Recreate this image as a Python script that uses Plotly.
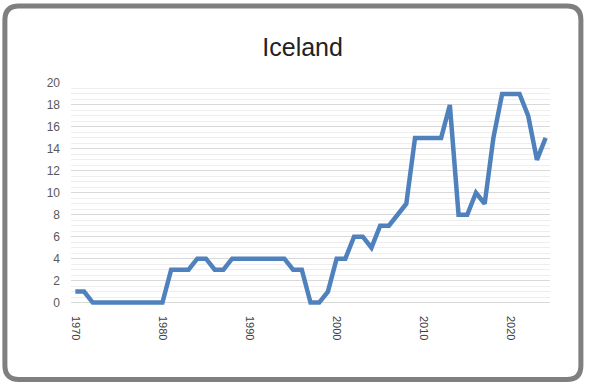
import plotly.graph_objects as go

years = list(range(1970, 2025))
values = [1, 1, 0, 0, 0, 0, 0, 0, 0, 0, 0,
          3, 3, 3, 4, 4, 3, 3, 4, 4, 4, 4, 4, 4, 4,
          3, 3, 0, 0, 1, 4, 4, 6, 6, 5, 7, 7, 8, 9,
          15, 15, 15, 15, 18, 8, 8, 10, 9, 15, 19, 19, 19, 17, 13, 15]
x_tick_vals = [1970, 1980, 1990, 2000, 2010, 2020]
y_tick_vals = [0, 2, 4, 6, 8, 10, 12, 14, 16, 18, 20]
title_text = "Iceland"

W, H = 589, 386
L, R, T, B = 70.6, 39.4, 83.3, 81.3
PW, PH = W - L - R, H - T - B


def px(xp, yp):
    return (xp - L) / PW, (H - B - yp) / PH


def rounded_rect(x0, y0, x1, y1, r):
    def p(a, b):
        u, v = px(a, b)
        return f"{u:.5f},{v:.5f}"
    s = f"M {p(x0 + r, y0)} L {p(x1 - r, y0)} Q {p(x1, y0)} {p(x1, y0 + r)} "
    s += f"L {p(x1, y1 - r)} Q {p(x1, y1)} {p(x1 - r, y1)} "
    s += f"L {p(x0 + r, y1)} Q {p(x0, y1)} {p(x0, y1 - r)} "
    s += f"L {p(x0, y0 + r)} Q {p(x0, y0)} {p(x0 + r, y0)} Z"
    return s


fig = go.Figure()
fig.add_trace(go.Scatter(
    x=years, y=values, mode="lines",
    line=dict(color="#4f81bd", width=4.5),
    hoverinfo="x+y", showlegend=False,
))

fig.update_layout(
    width=W, height=H,
    margin=dict(l=L, r=R, t=T, b=B, pad=0),
    paper_bgcolor="white", plot_bgcolor="white",
    title=dict(text=title_text, x=302.6 / W, xanchor="center",
               y=1 - 47 / H, yanchor="middle", yref="container",
               font=dict(family="Liberation Sans, Arial", size=25, color="#222222")),
    font=dict(family="Liberation Sans, Arial"),
    xaxis=dict(range=[1969.5, 2024.5], tickmode="array", tickvals=x_tick_vals,
               ticktext=[str(v) for v in x_tick_vals], tickangle=90,
               showgrid=False, zeroline=False, showline=False, ticks="",
               ticklabelstandoff=10,
               tickfont=dict(size=11, color="#404040")),
    yaxis=dict(range=[-0.22, 20], tickmode="array", tickvals=y_tick_vals,
               showgrid=True, gridcolor="#d9d9d9", gridwidth=1,
               zeroline=False, showline=False, ticks="",
               ticklabelstandoff=10,
               tickfont=dict(size=12, color="#595959"),
               minor=dict(tickmode="linear", tick0=0, dtick=0.5, showgrid=True,
                          gridcolor="#eeeeee", gridwidth=1, ticks="")),
    shapes=[dict(type="path", xref="paper", yref="paper",
                 path=rounded_rect(4.5, 6.5, 580.5, 379, 14),
                 line=dict(color="#7f7f7f", width=5), fillcolor="rgba(0,0,0,0)",
                 layer="above")],
)

fig.write_html("out.html", config={"displayModeBar": False},
               post_script="document.body.style.margin='0';document.body.style.overflow='hidden';")
